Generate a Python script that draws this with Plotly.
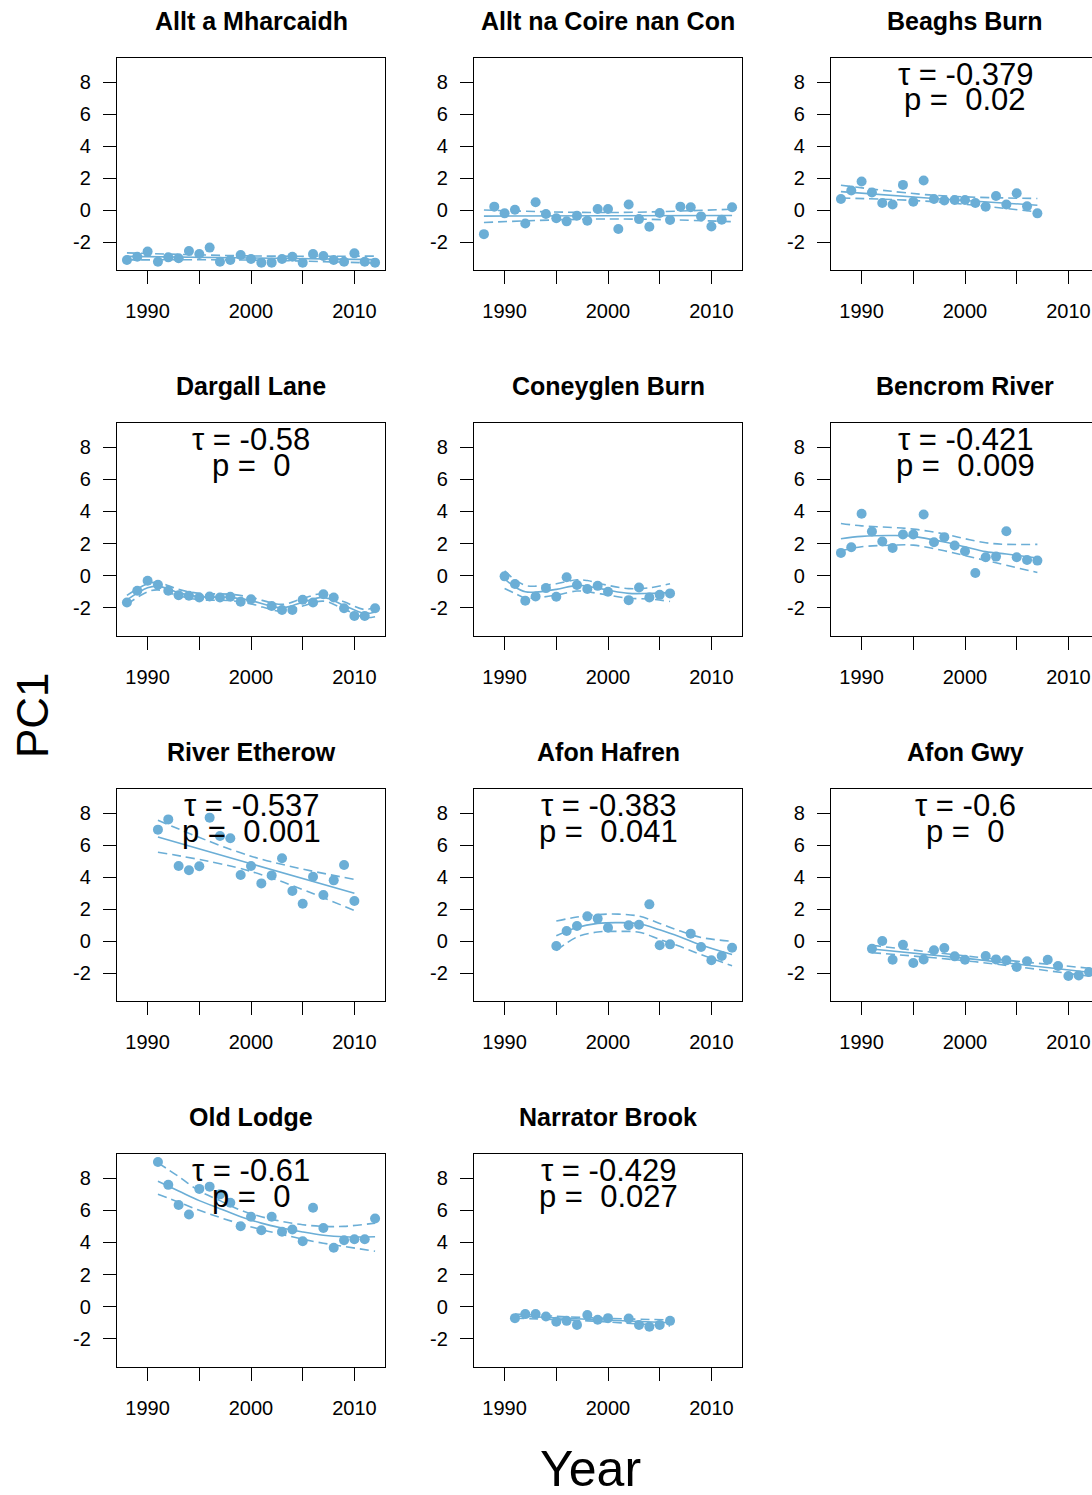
import plotly.graph_objects as go

# ---------------- DATA ----------------
site_names = ["Allt a Mharcaidh", "Allt na Coire nan Con", "Beaghs Burn",
              "Dargall Lane", "Coneyglen Burn", "Bencrom River",
              "River Etherow", "Afon Hafren", "Afon Gwy",
              "Old Lodge", "Narrator Brook"]

mharcaidh_years = [1988, 1989, 1990, 1991, 1992, 1993, 1994, 1995, 1996, 1997, 1998, 1999, 2000,
                   2001, 2002, 2003, 2004, 2005, 2006, 2007, 2008, 2009, 2010, 2011, 2012]
mharcaidh_pc1 = [-3.12, -2.92, -2.6, -3.23, -2.96, -3.02, -2.56, -2.75, -2.35, -3.23, -3.12, -2.81, -3.06,
                 -3.29, -3.29, -3.06, -2.92, -3.29, -2.75, -2.87, -3.12, -3.23, -2.71, -3.23, -3.29]
mharcaidh_fit_years = [1988, 2000, 2012]
mharcaidh_fit = [-2.9, -3.0, -3.1]
mharcaidh_hi = [-2.68, -2.87, -2.88]
mharcaidh_lo = [-3.12, -3.13, -3.32]

coire_years = [1988, 1989, 1990, 1991, 1992, 1993, 1994, 1995, 1996, 1997, 1998, 1999, 2000,
               2001, 2002, 2003, 2004, 2005, 2006, 2007, 2008, 2009, 2010, 2011, 2012]
coire_pc1 = [-1.51, 0.21, -0.21, 0.02, -0.84, 0.48, -0.25, -0.52, -0.71, -0.36, -0.67, 0.06, 0.06,
             -1.19, 0.34, -0.57, -1.05, -0.19, -0.63, 0.21, 0.17, -0.4, -1.03, -0.61, 0.17]
coire_fit_years = [1988, 2000, 2012]
coire_fit = [-0.38, -0.36, -0.34]
coire_hi = [0.0, -0.16, 0.05]
coire_lo = [-0.78, -0.56, -0.73]

beaghs_years = [1988, 1989, 1990, 1991, 1992, 1993, 1994, 1995, 1996, 1997, 1998, 1999, 2000,
                2001, 2002, 2003, 2004, 2005, 2006, 2007]
beaghs_pc1 = [0.69, 1.22, 1.78, 1.09, 0.44, 0.34, 1.57, 0.52, 1.84, 0.69, 0.59, 0.63, 0.63,
              0.44, 0.21, 0.88, 0.34, 1.05, 0.23, -0.21]
beaghs_fit_years = [1988, 1997, 2007]
beaghs_fit = [1.15, 0.72, 0.3]
beaghs_hi = [1.55, 0.92, 0.72]
beaghs_lo = [0.75, 0.52, -0.12]

dargall_years = [1988, 1989, 1990, 1991, 1992, 1993, 1994, 1995, 1996, 1997, 1998, 1999, 2000,
                 2002, 2003, 2004, 2005, 2006, 2007, 2008, 2009, 2010, 2011, 2012]
dargall_pc1 = [-1.67, -0.94, -0.31, -0.56, -0.94, -1.21, -1.25, -1.35, -1.29, -1.35, -1.31, -1.62, -1.46,
               -1.88, -2.13, -2.13, -1.5, -1.67, -1.15, -1.35, -2.02, -2.5, -2.5, -2.02]
dargall_fit_years = [1988, 1990, 1991, 1993, 1995, 1998, 2000, 2003, 2005, 2007, 2009, 2011, 2012]
dargall_fit = [-1.5, -0.75, -0.65, -1.05, -1.3, -1.35, -1.55, -2.0, -1.65, -1.35, -1.85, -2.35, -2.25]
dargall_hi = [-1.22, -0.5, -0.42, -0.85, -1.1, -1.15, -1.35, -1.78, -1.42, -1.12, -1.62, -2.1, -1.95]
dargall_lo = [-1.78, -1.0, -0.88, -1.25, -1.5, -1.55, -1.75, -2.22, -1.88, -1.58, -2.08, -2.6, -2.55]

coneyglen_years = [1990, 1991, 1992, 1993, 1994, 1995, 1996, 1997, 1998, 1999, 2000,
                   2002, 2003, 2004, 2005, 2006]
coneyglen_pc1 = [-0.04, -0.52, -1.56, -1.29, -0.77, -1.31, -0.1, -0.58, -0.83, -0.63, -1.0,
                 -1.52, -0.73, -1.35, -1.19, -1.1]
coneyglen_fit_years = [1990, 1991, 1992, 1993, 1995, 1997, 1998, 2000, 2002, 2004, 2006]
coneyglen_fit = [-0.2, -0.7, -1.0, -1.02, -0.85, -0.6, -0.65, -0.9, -1.1, -1.1, -1.05]
coneyglen_hi = [0.3, -0.25, -0.6, -0.65, -0.5, -0.25, -0.3, -0.6, -0.8, -0.75, -0.5]
coneyglen_lo = [-0.8, -1.1, -1.38, -1.38, -1.2, -0.95, -1.0, -1.2, -1.4, -1.45, -1.6]

bencrom_years = [1988, 1989, 1990, 1991, 1992, 1993, 1994, 1995, 1996, 1997, 1998, 1999, 2000,
                 2001, 2002, 2003, 2004, 2005, 2006, 2007]
bencrom_pc1 = [1.42, 1.77, 3.86, 2.75, 2.13, 1.73, 2.56, 2.56, 3.81, 2.08, 2.4, 1.88, 1.52,
               0.17, 1.15, 1.19, 2.77, 1.15, 0.98, 0.94]
bencrom_fit_years = [1988, 1990, 1993, 1995, 1998, 2000, 2002, 2004, 2007]
bencrom_fit = [2.3, 2.45, 2.5, 2.45, 2.1, 1.8, 1.5, 1.35, 1.1]
bencrom_hi = [3.25, 3.1, 3.0, 2.9, 2.6, 2.3, 2.05, 1.95, 1.95]
bencrom_lo = [1.55, 1.8, 1.9, 1.9, 1.55, 1.25, 0.95, 0.65, 0.2]

etherow_years = [1991, 1992, 1993, 1994, 1995, 1996, 1997, 1998, 1999, 2000,
                 2001, 2002, 2003, 2004, 2005, 2006, 2007, 2008, 2009, 2010]
etherow_pc1 = [6.96, 7.6, 4.69, 4.42, 4.67, 7.71, 6.56, 6.42, 4.13, 4.69,
               3.6, 4.1, 5.17, 3.13, 2.33, 4.02, 2.88, 3.79, 4.75, 2.5]
etherow_fit_years = [1991, 2000, 2010]
etherow_fit = [6.5, 4.83, 2.98]
etherow_hi = [7.55, 5.3, 3.85]
etherow_lo = [5.55, 4.35, 1.9]

hafren_years = [1995, 1996, 1997, 1998, 1999, 2000, 2002, 2003, 2004, 2005, 2006,
                2008, 2009, 2010, 2011, 2012]
hafren_pc1 = [-0.31, 0.62, 0.94, 1.54, 1.4, 0.83, 0.98, 1.02, 2.29, -0.27, -0.21,
              0.46, -0.37, -1.2, -0.94, -0.42]
hafren_fit_years = [1995, 1997, 1999, 2001, 2003, 2005, 2007, 2009, 2012]
hafren_fit = [0.33, 0.85, 1.1, 1.15, 1.08, 0.7, 0.25, -0.25, -0.85]
hafren_hi = [1.25, 1.5, 1.65, 1.68, 1.55, 1.1, 0.62, 0.22, -0.02]
hafren_lo = [-0.6, 0.25, 0.56, 0.6, 0.55, 0.1, -0.35, -0.85, -1.55]

gwy_years = [1991, 1992, 1993, 1994, 1995, 1996, 1997, 1998, 1999, 2000,
             2002, 2003, 2004, 2005, 2006, 2008, 2009, 2010, 2011, 2012]
gwy_pc1 = [-0.48, 0.0, -1.17, -0.23, -1.38, -1.15, -0.58, -0.44, -0.96, -1.17,
           -0.94, -1.15, -1.21, -1.63, -1.27, -1.17, -1.56, -2.19, -2.15, -1.94]
gwy_fit_years = [1991, 2001, 2012]
gwy_fit = [-0.5, -1.15, -1.95]
gwy_hi = [-0.27, -1.0, -1.7]
gwy_lo = [-0.73, -1.3, -2.2]

oldlodge_years = [1991, 1992, 1993, 1994, 1995, 1996, 1997, 1998, 1999, 2000, 2001,
                  2002, 2003, 2004, 2005, 2006, 2007, 2008, 2009, 2010, 2011, 2012]
oldlodge_pc1 = [9.0, 7.58, 6.33, 5.74, 7.33, 7.47, 6.99, 6.47, 5.01, 5.6, 4.76,
                5.6, 4.66, 4.8, 4.07, 6.16, 4.9, 3.67, 4.13, 4.2, 4.2, 5.49]
oldlodge_fit_years = [1991, 1993, 1995, 1997, 1999, 2001, 2003, 2005, 2007, 2009, 2012]
oldlodge_fit = [7.8, 7.2, 6.6, 6.1, 5.6, 5.2, 4.9, 4.65, 4.45, 4.35, 4.35]
oldlodge_hi = [8.95, 8.1, 7.2, 6.6, 6.0, 5.6, 5.3, 5.1, 5.0, 5.0, 5.2]
oldlodge_lo = [7.0, 6.5, 6.0, 5.55, 5.15, 4.8, 4.5, 4.2, 3.95, 3.75, 3.45]

narrator_years = [1991, 1992, 1993, 1994, 1995, 1996, 1997, 1998, 1999, 2000,
                  2002, 2003, 2004, 2005, 2006]
narrator_pc1 = [-0.71, -0.46, -0.46, -0.61, -0.94, -0.88, -1.13, -0.52, -0.81, -0.71,
                -0.73, -1.13, -1.25, -1.13, -0.88]
narrator_fit_years = [1991, 1998, 2006]
narrator_fit = [-0.58, -0.78, -1.0]
narrator_hi = [-0.45, -0.68, -0.82]
narrator_lo = [-0.72, -0.88, -1.2]

tau_values = [None, None, "-0.379", "-0.58", None, "-0.421", "-0.537", "-0.383", "-0.6", "-0.61", "-0.429"]
p_values = [None, None, "0.02", "0", None, "0.009", "0.001", "0.041", "0", "0", "0.027"]

x_tick_vals = [1990, 1995, 2000, 2005, 2010]
x_tick_text = ["1990", "", "2000", "", "2010"]
y_tick_vals = [-2, 0, 2, 4, 6, 8]
y_tick_text = ["-2", "0", "2", "4", "6", "8"]

# ---------------- LAYOUT ----------------
W, H = 1092, 1495
COLOR = "#6BAED6"
FONT = "Liberation Sans, Arial, Helvetica, sans-serif"

col_px = [(117, 385), (474, 742), (831, 1092)]
row_px = [(58, 270), (423, 636), (789, 1001), (1154, 1367)]
px_per_year = 268 / 25.92
x_left = 1987.04
y_range = [-3.75, 9.5]

panels = [
    (mharcaidh_years, mharcaidh_pc1, mharcaidh_fit_years, mharcaidh_fit, mharcaidh_hi, mharcaidh_lo),
    (coire_years, coire_pc1, coire_fit_years, coire_fit, coire_hi, coire_lo),
    (beaghs_years, beaghs_pc1, beaghs_fit_years, beaghs_fit, beaghs_hi, beaghs_lo),
    (dargall_years, dargall_pc1, dargall_fit_years, dargall_fit, dargall_hi, dargall_lo),
    (coneyglen_years, coneyglen_pc1, coneyglen_fit_years, coneyglen_fit, coneyglen_hi, coneyglen_lo),
    (bencrom_years, bencrom_pc1, bencrom_fit_years, bencrom_fit, bencrom_hi, bencrom_lo),
    (etherow_years, etherow_pc1, etherow_fit_years, etherow_fit, etherow_hi, etherow_lo),
    (hafren_years, hafren_pc1, hafren_fit_years, hafren_fit, hafren_hi, hafren_lo),
    (gwy_years, gwy_pc1, gwy_fit_years, gwy_fit, gwy_hi, gwy_lo),
    (oldlodge_years, oldlodge_pc1, oldlodge_fit_years, oldlodge_fit, oldlodge_hi, oldlodge_lo),
    (narrator_years, narrator_pc1, narrator_fit_years, narrator_fit, narrator_hi, narrator_lo),
]

fig = go.Figure()
layout = dict(
    width=W, height=H,
    margin=dict(l=0, r=0, t=0, b=0),
    paper_bgcolor="white", plot_bgcolor="white",
    showlegend=False,
    font=dict(family=FONT, color="black"),
)
annotations = []

for i, (yrs, vals, fy, fit, hi, lo) in enumerate(panels):
    n = i + 1
    r, c = divmod(i, 3)
    x0, x1 = col_px[c]
    y0, y1 = row_px[r]
    xa = "x" if n == 1 else f"x{n}"
    ya = "y" if n == 1 else f"y{n}"
    x_right = x_left + (x1 - x0) / px_per_year

    layout[f"xaxis{'' if n == 1 else n}"] = dict(
        domain=[x0 / W, x1 / W], anchor=ya, range=[x_left, x_right],
        showgrid=False, zeroline=False, showline=True, mirror=True,
        linecolor="black", linewidth=1.3,
        ticks="outside", ticklen=13, tickwidth=1.3, tickcolor="black",
        tickvals=x_tick_vals, ticktext=x_tick_text,
        tickfont=dict(size=20, family=FONT, color="black"),
        ticklabelstandoff=10, fixedrange=True,
    )
    layout[f"yaxis{'' if n == 1 else n}"] = dict(
        domain=[1 - y1 / H, 1 - y0 / H], anchor=xa, range=y_range,
        showgrid=False, zeroline=False, showline=True, mirror=(c < 2),
        linecolor="black", linewidth=1.3,
        ticks="outside", ticklen=13, tickwidth=1.3, tickcolor="black",
        tickvals=y_tick_vals, ticktext=y_tick_text,
        tickfont=dict(size=20, family=FONT, color="black"),
        ticklabelstandoff=8, fixedrange=True,
    )

    # CI dashed lines
    for band in (hi, lo):
        fig.add_trace(go.Scatter(x=fy, y=band, mode="lines", xaxis=xa, yaxis=ya,
                                 line=dict(color=COLOR, width=1.6, dash="9px,5px", shape="spline"),
                                 hoverinfo="skip"))
    # fitted line
    fig.add_trace(go.Scatter(x=fy, y=fit, mode="lines", xaxis=xa, yaxis=ya,
                             line=dict(color=COLOR, width=1.6, shape="spline"), hoverinfo="skip"))
    # points
    fig.add_trace(go.Scatter(x=yrs, y=vals, mode="markers", xaxis=xa, yaxis=ya,
                             marker=dict(color=COLOR, size=10, line=dict(width=0))))

    cx = ((x0 + (x0 + 268)) / 2) / W
    # title
    annotations.append(dict(
        text=f"<b>{site_names[i]}</b>", xref="paper", yref="paper",
        x=cx, y=1 - (y0 - 37) / H,
        xanchor="center", yanchor="middle", showarrow=False,
        font=dict(size=25, family=FONT, color="black"),
    ))
    # tau / p
    if tau_values[i] is not None:
        annotations.append(dict(
            text=f"\u03c4 = {tau_values[i]}", xref="paper", yref="paper",
            x=cx, y=1 - (y0 + 16) / H, xanchor="center", yanchor="middle",
            showarrow=False, font=dict(size=31, family=FONT, color="black"),
        ))
        annotations.append(dict(
            text=f"p =\u00a0\u00a0{p_values[i]}", xref="paper", yref="paper",
            x=cx, y=1 - (y0 + 42) / H, xanchor="center", yanchor="middle",
            showarrow=False, font=dict(size=31, family=FONT, color="black"),
        ))

annotations.append(dict(text="PC1", xref="paper", yref="paper", x=32 / W, y=1 - 715 / H,
                        xanchor="center", yanchor="middle", textangle=-90, showarrow=False,
                        font=dict(size=44, family=FONT, color="black")))
annotations.append(dict(text="Year", xref="paper", yref="paper", x=590 / W, y=1 - 1469 / H,
                        xanchor="center", yanchor="middle", showarrow=False,
                        font=dict(size=50, family=FONT, color="black")))

layout["annotations"] = annotations
fig.update_layout(**layout)
fig.write_html("out.html")
